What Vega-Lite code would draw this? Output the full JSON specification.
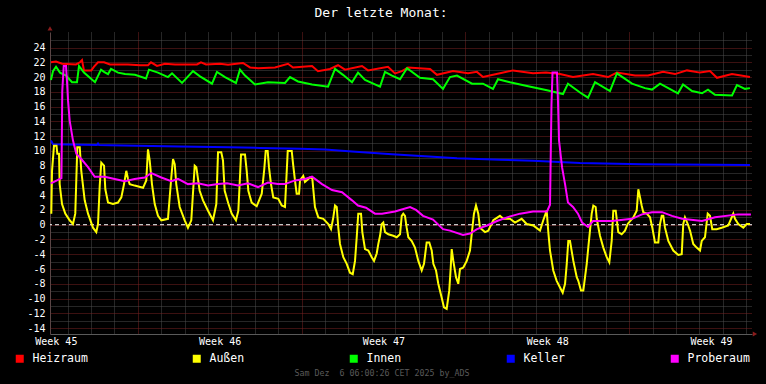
{
"$schema": "https://vega.github.io/schema/vega-lite/v6.json",
"background": "#000000",
"padding": {"left": 5, "right": 9, "top": 7, "bottom": 6},
"width": 702,
"height": 302,
"title": {"text": "Der letzte Monat:", "color": "#ffffff", "font": "DejaVu Sans Mono", "fontSize": 13, "fontWeight": "normal", "anchor": "middle", "offset": 6, "frame": "bounds"},
"config": {"view": {"stroke": null}},
"layer": [
{
"data": {"values": [{}]},
"mark": {"type": "rule", "color": "#ffffff", "strokeWidth": 1, "strokeDash": [4, 3]},
"encoding": {"y": {"datum": 0, "type": "quantitative"}}
},
{
"data": {"values": [
{"s":"Heizraum","t":"2025-11-06T07:00Z","v":22.0},{"s":"Heizraum","t":"2025-11-06T12:10Z","v":22.1},{"s":"Heizraum","t":"2025-11-06T18:20Z","v":21.8},{"s":"Heizraum","t":"2025-11-07T08:40Z","v":21.7},{"s":"Heizraum","t":"2025-11-07T12:45Z","v":22.0},{"s":"Heizraum","t":"2025-11-07T14:50Z","v":22.3},{"s":"Heizraum","t":"2025-11-07T16:50Z","v":20.9},{"s":"Heizraum","t":"2025-11-08T00:20Z","v":20.9},{"s":"Heizraum","t":"2025-11-08T03:10Z","v":21.4},{"s":"Heizraum","t":"2025-11-08T07:15Z","v":22.0},{"s":"Heizraum","t":"2025-11-08T13:25Z","v":22.0},{"s":"Heizraum","t":"2025-11-08T19:30Z","v":21.7},{"s":"Heizraum","t":"2025-11-09T14:00Z","v":21.7},{"s":"Heizraum","t":"2025-11-10T02:20Z","v":21.6},{"s":"Heizraum","t":"2025-11-10T10:30Z","v":21.6},{"s":"Heizraum","t":"2025-11-10T13:35Z","v":22.0},{"s":"Heizraum","t":"2025-11-10T19:45Z","v":21.5},{"s":"Heizraum","t":"2025-11-11T03:55Z","v":21.8},{"s":"Heizraum","t":"2025-11-11T14:15Z","v":21.7},{"s":"Heizraum","t":"2025-11-12T12:45Z","v":21.7},{"s":"Heizraum","t":"2025-11-12T16:50Z","v":22.0},{"s":"Heizraum","t":"2025-11-12T22:00Z","v":21.7},{"s":"Heizraum","t":"2025-11-13T12:20Z","v":21.8},{"s":"Heizraum","t":"2025-11-13T20:35Z","v":21.65},{"s":"Heizraum","t":"2025-11-14T11:55Z","v":21.9},{"s":"Heizraum","t":"2025-11-14T19:10Z","v":21.3},{"s":"Heizraum","t":"2025-11-15T03:20Z","v":21.2},{"s":"Heizraum","t":"2025-11-15T20:45Z","v":21.3},{"s":"Heizraum","t":"2025-11-16T10:05Z","v":21.8},{"s":"Heizraum","t":"2025-11-16T15:15Z","v":21.3},{"s":"Heizraum","t":"2025-11-17T10:45Z","v":21.5},{"s":"Heizraum","t":"2025-11-17T16:50Z","v":20.8},{"s":"Heizraum","t":"2025-11-18T05:10Z","v":21.1},{"s":"Heizraum","t":"2025-11-18T13:25Z","v":21.6},{"s":"Heizraum","t":"2025-11-18T20:35Z","v":21.0},{"s":"Heizraum","t":"2025-11-19T14:00Z","v":21.5},{"s":"Heizraum","t":"2025-11-19T20:10Z","v":20.9},{"s":"Heizraum","t":"2025-11-20T16:40Z","v":21.4},{"s":"Heizraum","t":"2025-11-20T23:50Z","v":20.5},{"s":"Heizraum","t":"2025-11-21T07:00Z","v":20.8},{"s":"Heizraum","t":"2025-11-21T13:10Z","v":21.3},{"s":"Heizraum","t":"2025-11-22T11:45Z","v":21.1},{"s":"Heizraum","t":"2025-11-22T18:55Z","v":20.3},{"s":"Heizraum","t":"2025-11-23T11:20Z","v":20.8},{"s":"Heizraum","t":"2025-11-24T02:45Z","v":20.5},{"s":"Heizraum","t":"2025-11-24T11:55Z","v":20.7},{"s":"Heizraum","t":"2025-11-24T18:05Z","v":20.0},{"s":"Heizraum","t":"2025-11-25T11:30Z","v":20.5},{"s":"Heizraum","t":"2025-11-26T00:50Z","v":20.9},{"s":"Heizraum","t":"2025-11-26T21:25Z","v":20.5},{"s":"Heizraum","t":"2025-11-27T10:45Z","v":20.6},{"s":"Heizraum","t":"2025-11-28T01:05Z","v":20.4},{"s":"Heizraum","t":"2025-11-28T14:25Z","v":20.0},{"s":"Heizraum","t":"2025-11-29T10:55Z","v":20.4},{"s":"Heizraum","t":"2025-11-30T02:20Z","v":20.0},{"s":"Heizraum","t":"2025-11-30T11:30Z","v":20.6},{"s":"Heizraum","t":"2025-12-01T06:00Z","v":20.2},{"s":"Heizraum","t":"2025-12-01T19:20Z","v":20.2},{"s":"Heizraum","t":"2025-12-02T10:45Z","v":20.7},{"s":"Heizraum","t":"2025-12-02T23:00Z","v":20.4},{"s":"Heizraum","t":"2025-12-03T11:20Z","v":20.9},{"s":"Heizraum","t":"2025-12-04T00:40Z","v":20.6},{"s":"Heizraum","t":"2025-12-04T10:55Z","v":20.8},{"s":"Heizraum","t":"2025-12-04T18:05Z","v":19.9},{"s":"Heizraum","t":"2025-12-05T09:30Z","v":20.4},{"s":"Heizraum","t":"2025-12-06T03:55Z","v":20.0},
{"s":"Innen","t":"2025-11-06T07:00Z","v":19.6},{"s":"Innen","t":"2025-11-06T09:05Z","v":20.8},{"s":"Innen","t":"2025-11-06T12:10Z","v":21.4},{"s":"Innen","t":"2025-11-06T16:15Z","v":20.6},{"s":"Innen","t":"2025-11-06T22:25Z","v":20.2},{"s":"Innen","t":"2025-11-07T04:35Z","v":19.3},{"s":"Innen","t":"2025-11-07T09:40Z","v":19.3},{"s":"Innen","t":"2025-11-07T11:45Z","v":21.5},{"s":"Innen","t":"2025-11-07T16:50Z","v":20.6},{"s":"Innen","t":"2025-11-08T04:10Z","v":19.3},{"s":"Innen","t":"2025-11-08T10:20Z","v":21.0},{"s":"Innen","t":"2025-11-08T13:25Z","v":20.7},{"s":"Innen","t":"2025-11-08T17:30Z","v":20.4},{"s":"Innen","t":"2025-11-08T20:35Z","v":21.1},{"s":"Innen","t":"2025-11-09T03:45Z","v":20.6},{"s":"Innen","t":"2025-11-09T10:55Z","v":20.4},{"s":"Innen","t":"2025-11-09T21:10Z","v":20.3},{"s":"Innen","t":"2025-11-10T08:30Z","v":19.8},{"s":"Innen","t":"2025-11-10T11:30Z","v":21.0},{"s":"Innen","t":"2025-11-10T20:45Z","v":20.6},{"s":"Innen","t":"2025-11-11T07:00Z","v":20.0},{"s":"Innen","t":"2025-11-11T11:10Z","v":20.5},{"s":"Innen","t":"2025-11-11T21:25Z","v":19.2},{"s":"Innen","t":"2025-11-12T08:40Z","v":20.8},{"s":"Innen","t":"2025-11-12T15:50Z","v":20.1},{"s":"Innen","t":"2025-11-13T04:10Z","v":19.1},{"s":"Innen","t":"2025-11-13T09:15Z","v":20.7},{"s":"Innen","t":"2025-11-13T17:30Z","v":20.0},{"s":"Innen","t":"2025-11-14T04:45Z","v":19.2},{"s":"Innen","t":"2025-11-14T08:50Z","v":21.0},{"s":"Innen","t":"2025-11-14T14:00Z","v":20.2},{"s":"Innen","t":"2025-11-15T00:15Z","v":19.0},{"s":"Innen","t":"2025-11-15T13:35Z","v":19.3},{"s":"Innen","t":"2025-11-16T07:00Z","v":19.2},{"s":"Innen","t":"2025-11-16T12:10Z","v":20.0},{"s":"Innen","t":"2025-11-16T20:20Z","v":19.4},{"s":"Innen","t":"2025-11-17T10:45Z","v":19.0},{"s":"Innen","t":"2025-11-18T03:10Z","v":18.7},{"s":"Innen","t":"2025-11-18T10:20Z","v":21.1},{"s":"Innen","t":"2025-11-18T18:30Z","v":20.3},{"s":"Innen","t":"2025-11-19T03:45Z","v":19.3},{"s":"Innen","t":"2025-11-19T09:55Z","v":20.6},{"s":"Innen","t":"2025-11-19T17:05Z","v":19.6},{"s":"Innen","t":"2025-11-20T08:30Z","v":18.7},{"s":"Innen","t":"2025-11-20T13:35Z","v":20.7},{"s":"Innen","t":"2025-11-20T20:45Z","v":20.2},{"s":"Innen","t":"2025-11-21T05:00Z","v":19.7},{"s":"Innen","t":"2025-11-21T12:10Z","v":21.2},{"s":"Innen","t":"2025-11-22T01:30Z","v":19.9},{"s":"Innen","t":"2025-11-22T14:50Z","v":19.7},{"s":"Innen","t":"2025-11-23T01:05Z","v":18.4},{"s":"Innen","t":"2025-11-23T08:15Z","v":20.0},{"s":"Innen","t":"2025-11-23T15:25Z","v":20.2},{"s":"Innen","t":"2025-11-24T06:50Z","v":19.1},{"s":"Innen","t":"2025-11-24T18:05Z","v":19.1},{"s":"Innen","t":"2025-11-25T04:20Z","v":18.4},{"s":"Innen","t":"2025-11-25T09:30Z","v":19.7},{"s":"Innen","t":"2025-11-25T21:45Z","v":19.3},{"s":"Innen","t":"2025-11-26T15:15Z","v":18.8},{"s":"Innen","t":"2025-11-27T11:45Z","v":18.2},{"s":"Innen","t":"2025-11-28T04:10Z","v":17.7},{"s":"Innen","t":"2025-11-28T09:15Z","v":19.1},{"s":"Innen","t":"2025-11-28T21:35Z","v":17.9},{"s":"Innen","t":"2025-11-29T05:50Z","v":17.2},{"s":"Innen","t":"2025-11-29T13:00Z","v":19.3},{"s":"Innen","t":"2025-11-30T04:20Z","v":18.1},{"s":"Innen","t":"2025-11-30T11:30Z","v":20.5},{"s":"Innen","t":"2025-12-01T02:55Z","v":19.1},{"s":"Innen","t":"2025-12-01T16:15Z","v":18.5},{"s":"Innen","t":"2025-12-01T23:25Z","v":18.3},{"s":"Innen","t":"2025-12-02T07:40Z","v":19.1},{"s":"Innen","t":"2025-12-03T02:05Z","v":17.8},{"s":"Innen","t":"2025-12-03T07:15Z","v":19.0},{"s":"Innen","t":"2025-12-03T16:30Z","v":18.1},{"s":"Innen","t":"2025-12-04T02:45Z","v":17.8},{"s":"Innen","t":"2025-12-04T08:50Z","v":18.3},{"s":"Innen","t":"2025-12-04T16:05Z","v":17.6},{"s":"Innen","t":"2025-12-05T09:30Z","v":17.5},{"s":"Innen","t":"2025-12-05T14:35Z","v":18.9},{"s":"Innen","t":"2025-12-05T22:50Z","v":18.4},{"s":"Innen","t":"2025-12-06T03:55Z","v":18.5},
{"s":"Keller","t":"2025-11-06T07:00Z","v":11.4},{"s":"Keller","t":"2025-11-06T09:05Z","v":10.9},{"s":"Keller","t":"2025-11-08T06:10Z","v":10.8},{"s":"Keller","t":"2025-11-08T07:15Z","v":11.0},{"s":"Keller","t":"2025-11-08T08:15Z","v":10.8},{"s":"Keller","t":"2025-11-08T19:30Z","v":10.75},{"s":"Keller","t":"2025-11-11T19:20Z","v":10.6},{"s":"Keller","t":"2025-11-13T22:35Z","v":10.5},{"s":"Keller","t":"2025-11-15T05:25Z","v":10.4},{"s":"Keller","t":"2025-11-16T22:25Z","v":10.3},{"s":"Keller","t":"2025-11-18T00:05Z","v":10.2},{"s":"Keller","t":"2025-11-19T03:45Z","v":9.9},{"s":"Keller","t":"2025-11-20T20:45Z","v":9.55},{"s":"Keller","t":"2025-11-22T14:50Z","v":9.2},{"s":"Keller","t":"2025-11-23T15:25Z","v":9.0},{"s":"Keller","t":"2025-11-25T11:30Z","v":8.8},{"s":"Keller","t":"2025-11-26T21:25Z","v":8.65},{"s":"Keller","t":"2025-11-28T21:35Z","v":8.35},{"s":"Keller","t":"2025-12-01T13:10Z","v":8.2},{"s":"Keller","t":"2025-12-06T03:55Z","v":8.1},
{"s":"Außen","t":"2025-11-06T07:20Z","v":1.5},{"s":"Außen","t":"2025-11-06T08:05Z","v":7.3},{"s":"Außen","t":"2025-11-06T10:05Z","v":10.7},{"s":"Außen","t":"2025-11-06T12:40Z","v":10.7},{"s":"Außen","t":"2025-11-06T13:30Z","v":9.6},{"s":"Außen","t":"2025-11-06T15:15Z","v":9.6},{"s":"Außen","t":"2025-11-06T15:55Z","v":5.5},{"s":"Außen","t":"2025-11-06T18:20Z","v":2.8},{"s":"Außen","t":"2025-11-06T21:40Z","v":1.5},{"s":"Außen","t":"2025-11-07T02:10Z","v":0.6},{"s":"Außen","t":"2025-11-07T05:35Z","v":0.1},{"s":"Außen","t":"2025-11-07T07:55Z","v":1.5},{"s":"Außen","t":"2025-11-07T10:00Z","v":10.5},{"s":"Außen","t":"2025-11-07T12:30Z","v":10.5},{"s":"Außen","t":"2025-11-07T14:05Z","v":7.3},{"s":"Außen","t":"2025-11-07T17:35Z","v":3.3},{"s":"Außen","t":"2025-11-07T21:00Z","v":1.5},{"s":"Außen","t":"2025-11-08T02:05Z","v":-0.4},{"s":"Außen","t":"2025-11-08T05:30Z","v":-1.0},{"s":"Außen","t":"2025-11-08T07:15Z","v":0.1},{"s":"Außen","t":"2025-11-08T09:00Z","v":5.3},{"s":"Außen","t":"2025-11-08T10:35Z","v":8.4},{"s":"Außen","t":"2025-11-08T13:25Z","v":8.0},{"s":"Außen","t":"2025-11-08T14:45Z","v":4.8},{"s":"Außen","t":"2025-11-08T17:30Z","v":3.0},{"s":"Außen","t":"2025-11-08T22:35Z","v":2.8},{"s":"Außen","t":"2025-11-09T03:45Z","v":3.0},{"s":"Außen","t":"2025-11-09T07:10Z","v":3.7},{"s":"Außen","t":"2025-11-09T09:55Z","v":5.5},{"s":"Außen","t":"2025-11-09T12:15Z","v":7.3},{"s":"Außen","t":"2025-11-09T14:00Z","v":6.2},{"s":"Außen","t":"2025-11-09T15:45Z","v":5.5},{"s":"Außen","t":"2025-11-09T20:50Z","v":5.3},{"s":"Außen","t":"2025-11-10T05:25Z","v":5.0},{"s":"Außen","t":"2025-11-10T08:45Z","v":6.0},{"s":"Außen","t":"2025-11-10T10:30Z","v":10.2},{"s":"Außen","t":"2025-11-10T12:15Z","v":8.7},{"s":"Außen","t":"2025-11-10T14:35Z","v":5.5},{"s":"Außen","t":"2025-11-10T17:25Z","v":2.8},{"s":"Außen","t":"2025-11-10T20:45Z","v":1.2},{"s":"Außen","t":"2025-11-11T00:10Z","v":0.6},{"s":"Außen","t":"2025-11-11T07:00Z","v":0.8},{"s":"Außen","t":"2025-11-11T08:45Z","v":3.7},{"s":"Außen","t":"2025-11-11T10:25Z","v":6.4},{"s":"Außen","t":"2025-11-11T12:10Z","v":8.9},{"s":"Außen","t":"2025-11-11T13:55Z","v":8.2},{"s":"Außen","t":"2025-11-11T15:30Z","v":5.5},{"s":"Außen","t":"2025-11-11T19:00Z","v":2.4},{"s":"Außen","t":"2025-11-12T00:10Z","v":0.6},{"s":"Außen","t":"2025-11-12T03:30Z","v":-0.4},{"s":"Außen","t":"2025-11-12T06:55Z","v":0.6},{"s":"Außen","t":"2025-11-12T10:25Z","v":8.0},{"s":"Außen","t":"2025-11-12T12:05Z","v":7.8},{"s":"Außen","t":"2025-11-12T15:30Z","v":4.6},{"s":"Außen","t":"2025-11-12T18:55Z","v":3.3},{"s":"Außen","t":"2025-11-13T00:05Z","v":1.9},{"s":"Außen","t":"2025-11-13T05:10Z","v":0.6},{"s":"Außen","t":"2025-11-13T08:35Z","v":2.8},{"s":"Außen","t":"2025-11-13T10:20Z","v":9.8},{"s":"Außen","t":"2025-11-13T13:40Z","v":9.8},{"s":"Außen","t":"2025-11-13T15:25Z","v":8.7},{"s":"Außen","t":"2025-11-13T17:10Z","v":4.6},{"s":"Außen","t":"2025-11-13T20:50Z","v":2.9},{"s":"Außen","t":"2025-11-14T00:20Z","v":1.5},{"s":"Außen","t":"2025-11-14T04:45Z","v":0.6},{"s":"Außen","t":"2025-11-14T07:10Z","v":1.9},{"s":"Außen","t":"2025-11-14T08:50Z","v":6.4},{"s":"Außen","t":"2025-11-14T09:55Z","v":9.5},{"s":"Außen","t":"2025-11-14T14:00Z","v":9.5},{"s":"Außen","t":"2025-11-14T15:45Z","v":7.3},{"s":"Außen","t":"2025-11-14T17:25Z","v":4.6},{"s":"Außen","t":"2025-11-14T20:50Z","v":3.0},{"s":"Außen","t":"2025-11-15T02:00Z","v":2.5},{"s":"Außen","t":"2025-11-15T07:10Z","v":4.2},{"s":"Außen","t":"2025-11-15T09:45Z","v":7.5},{"s":"Außen","t":"2025-11-15T11:15Z","v":10.0},{"s":"Außen","t":"2025-11-15T13:15Z","v":10.0},{"s":"Außen","t":"2025-11-15T14:35Z","v":7.8},{"s":"Außen","t":"2025-11-15T16:40Z","v":5.5},{"s":"Außen","t":"2025-11-15T19:00Z","v":3.7},{"s":"Außen","t":"2025-11-16T00:10Z","v":3.5},{"s":"Außen","t":"2025-11-16T03:40Z","v":2.6},{"s":"Außen","t":"2025-11-16T07:00Z","v":2.4},{"s":"Außen","t":"2025-11-16T09:50Z","v":10.0},{"s":"Außen","t":"2025-11-16T13:55Z","v":10.0},{"s":"Außen","t":"2025-11-16T15:30Z","v":8.0},{"s":"Außen","t":"2025-11-16T17:15Z","v":6.0},{"s":"Außen","t":"2025-11-16T19:00Z","v":4.2},{"s":"Außen","t":"2025-11-16T21:25Z","v":4.2},{"s":"Außen","t":"2025-11-16T22:25Z","v":6.0},{"s":"Außen","t":"2025-11-17T01:45Z","v":6.6},{"s":"Außen","t":"2025-11-17T03:30Z","v":5.8},{"s":"Außen","t":"2025-11-17T08:40Z","v":6.4},{"s":"Außen","t":"2025-11-17T11:00Z","v":6.3},{"s":"Außen","t":"2025-11-17T13:45Z","v":2.4},{"s":"Außen","t":"2025-11-17T17:10Z","v":1.0},{"s":"Außen","t":"2025-11-17T22:20Z","v":0.8},{"s":"Außen","t":"2025-11-18T03:25Z","v":0.1},{"s":"Außen","t":"2025-11-18T06:15Z","v":-0.6},{"s":"Außen","t":"2025-11-18T08:35Z","v":1.0},{"s":"Außen","t":"2025-11-18T10:20Z","v":2.6},{"s":"Außen","t":"2025-11-18T12:05Z","v":2.4},{"s":"Außen","t":"2025-11-18T13:40Z","v":-0.4},{"s":"Außen","t":"2025-11-18T15:25Z","v":-2.6},{"s":"Außen","t":"2025-11-18T18:50Z","v":-4.4},{"s":"Außen","t":"2025-11-18T22:20Z","v":-5.3},{"s":"Außen","t":"2025-11-19T01:40Z","v":-6.5},{"s":"Außen","t":"2025-11-19T04:30Z","v":-6.7},{"s":"Außen","t":"2025-11-19T06:50Z","v":-4.9},{"s":"Außen","t":"2025-11-19T08:35Z","v":-1.7},{"s":"Außen","t":"2025-11-19T10:10Z","v":1.5},{"s":"Außen","t":"2025-11-19T13:00Z","v":1.5},{"s":"Außen","t":"2025-11-19T14:20Z","v":-1.0},{"s":"Außen","t":"2025-11-19T17:05Z","v":-3.3},{"s":"Außen","t":"2025-11-19T20:30Z","v":-3.5},{"s":"Außen","t":"2025-11-20T00:00Z","v":-4.4},{"s":"Außen","t":"2025-11-20T02:20Z","v":-4.9},{"s":"Außen","t":"2025-11-20T05:05Z","v":-3.9},{"s":"Außen","t":"2025-11-20T06:45Z","v":-2.6},{"s":"Außen","t":"2025-11-20T08:30Z","v":-1.5},{"s":"Außen","t":"2025-11-20T10:15Z","v":0.1},{"s":"Außen","t":"2025-11-20T11:50Z","v":0.3},{"s":"Außen","t":"2025-11-20T13:35Z","v":-1.0},{"s":"Außen","t":"2025-11-20T17:00Z","v":-1.3},{"s":"Außen","t":"2025-11-20T22:05Z","v":-1.5},{"s":"Außen","t":"2025-11-21T01:35Z","v":-1.7},{"s":"Außen","t":"2025-11-21T05:00Z","v":-1.3},{"s":"Außen","t":"2025-11-21T06:45Z","v":1.2},{"s":"Außen","t":"2025-11-21T08:20Z","v":1.5},{"s":"Außen","t":"2025-11-21T10:05Z","v":1.2},{"s":"Außen","t":"2025-11-21T11:50Z","v":-0.4},{"s":"Außen","t":"2025-11-21T13:30Z","v":-1.7},{"s":"Außen","t":"2025-11-21T17:00Z","v":-2.2},{"s":"Außen","t":"2025-11-21T20:20Z","v":-3.1},{"s":"Außen","t":"2025-11-21T23:45Z","v":-4.9},{"s":"Außen","t":"2025-11-22T03:15Z","v":-6.2},{"s":"Außen","t":"2025-11-22T05:35Z","v":-5.3},{"s":"Außen","t":"2025-11-22T08:20Z","v":-2.4},{"s":"Außen","t":"2025-11-22T11:00Z","v":-2.4},{"s":"Außen","t":"2025-11-22T13:30Z","v":-3.5},{"s":"Außen","t":"2025-11-22T15:10Z","v":-5.3},{"s":"Außen","t":"2025-11-22T17:55Z","v":-6.2},{"s":"Außen","t":"2025-11-22T20:15Z","v":-8.0},{"s":"Außen","t":"2025-11-22T23:45Z","v":-9.9},{"s":"Außen","t":"2025-11-23T02:05Z","v":-11.2},{"s":"Außen","t":"2025-11-23T04:50Z","v":-11.4},{"s":"Außen","t":"2025-11-23T07:30Z","v":-8.9},{"s":"Außen","t":"2025-11-23T09:00Z","v":-5.8},{"s":"Außen","t":"2025-11-23T10:00Z","v":-3.3},{"s":"Außen","t":"2025-11-23T11:40Z","v":-4.9},{"s":"Außen","t":"2025-11-23T14:25Z","v":-7.1},{"s":"Außen","t":"2025-11-23T16:45Z","v":-8.0},{"s":"Außen","t":"2025-11-23T18:30Z","v":-6.0},{"s":"Außen","t":"2025-11-23T21:55Z","v":-5.8},{"s":"Außen","t":"2025-11-24T01:25Z","v":-4.9},{"s":"Außen","t":"2025-11-24T04:45Z","v":-3.5},{"s":"Außen","t":"2025-11-24T06:30Z","v":-1.3},{"s":"Außen","t":"2025-11-24T08:50Z","v":1.5},{"s":"Außen","t":"2025-11-24T10:55Z","v":2.6},{"s":"Außen","t":"2025-11-24T13:15Z","v":1.5},{"s":"Außen","t":"2025-11-24T15:00Z","v":-0.4},{"s":"Außen","t":"2025-11-24T20:10Z","v":-1.0},{"s":"Außen","t":"2025-11-24T23:30Z","v":-0.8},{"s":"Außen","t":"2025-11-25T04:40Z","v":0.6},{"s":"Außen","t":"2025-11-25T11:30Z","v":1.2},{"s":"Außen","t":"2025-11-25T14:55Z","v":0.8},{"s":"Außen","t":"2025-11-25T21:45Z","v":0.8},{"s":"Außen","t":"2025-11-26T02:55Z","v":0.3},{"s":"Außen","t":"2025-11-26T09:45Z","v":0.8},{"s":"Außen","t":"2025-11-26T14:55Z","v":0.1},{"s":"Außen","t":"2025-11-26T21:40Z","v":-0.1},{"s":"Außen","t":"2025-11-27T04:35Z","v":-0.8},{"s":"Außen","t":"2025-11-27T07:55Z","v":0.6},{"s":"Außen","t":"2025-11-27T11:25Z","v":1.9},{"s":"Außen","t":"2025-11-27T13:05Z","v":-1.0},{"s":"Außen","t":"2025-11-27T14:50Z","v":-3.5},{"s":"Außen","t":"2025-11-27T18:10Z","v":-6.2},{"s":"Außen","t":"2025-11-27T21:40Z","v":-7.6},{"s":"Außen","t":"2025-11-28T01:05Z","v":-8.5},{"s":"Außen","t":"2025-11-28T03:50Z","v":-9.2},{"s":"Außen","t":"2025-11-28T06:15Z","v":-8.0},{"s":"Außen","t":"2025-11-28T08:00Z","v":-5.3},{"s":"Außen","t":"2025-11-28T09:35Z","v":-2.2},{"s":"Außen","t":"2025-11-28T11:20Z","v":-2.2},{"s":"Außen","t":"2025-11-28T14:45Z","v":-4.9},{"s":"Außen","t":"2025-11-28T18:15Z","v":-7.1},{"s":"Außen","t":"2025-11-28T19:50Z","v":-7.6},{"s":"Außen","t":"2025-11-28T22:35Z","v":-8.9},{"s":"Außen","t":"2025-11-29T01:00Z","v":-8.9},{"s":"Außen","t":"2025-11-29T02:45Z","v":-7.1},{"s":"Außen","t":"2025-11-29T04:30Z","v":-5.3},{"s":"Außen","t":"2025-11-29T06:05Z","v":-3.1},{"s":"Außen","t":"2025-11-29T07:50Z","v":-0.8},{"s":"Außen","t":"2025-11-29T09:35Z","v":1.5},{"s":"Außen","t":"2025-11-29T11:15Z","v":2.6},{"s":"Außen","t":"2025-11-29T13:40Z","v":2.4},{"s":"Außen","t":"2025-11-29T14:45Z","v":0.8},{"s":"Außen","t":"2025-11-29T18:05Z","v":-1.5},{"s":"Außen","t":"2025-11-29T21:30Z","v":-3.1},{"s":"Außen","t":"2025-11-30T01:00Z","v":-4.4},{"s":"Außen","t":"2025-11-30T03:40Z","v":-5.1},{"s":"Außen","t":"2025-11-30T06:05Z","v":-2.2},{"s":"Außen","t":"2025-11-30T07:45Z","v":1.9},{"s":"Außen","t":"2025-11-30T10:15Z","v":1.9},{"s":"Außen","t":"2025-11-30T12:50Z","v":-1.0},{"s":"Außen","t":"2025-11-30T16:20Z","v":-1.3},{"s":"Außen","t":"2025-11-30T19:45Z","v":-0.8},{"s":"Außen","t":"2025-11-30T22:30Z","v":0.1},{"s":"Außen","t":"2025-12-01T04:15Z","v":1.0},{"s":"Außen","t":"2025-12-01T07:45Z","v":1.9},{"s":"Außen","t":"2025-12-01T09:25Z","v":4.8},{"s":"Außen","t":"2025-12-01T11:10Z","v":3.7},{"s":"Außen","t":"2025-12-01T12:50Z","v":2.6},{"s":"Außen","t":"2025-12-01T14:30Z","v":1.7},{"s":"Außen","t":"2025-12-01T18:00Z","v":1.5},{"s":"Außen","t":"2025-12-01T21:25Z","v":1.0},{"s":"Außen","t":"2025-12-01T23:45Z","v":-0.4},{"s":"Außen","t":"2025-12-02T02:30Z","v":-2.4},{"s":"Außen","t":"2025-12-02T05:55Z","v":-2.4},{"s":"Außen","t":"2025-12-02T07:40Z","v":0.1},{"s":"Außen","t":"2025-12-02T09:25Z","v":1.2},{"s":"Außen","t":"2025-12-02T11:00Z","v":1.2},{"s":"Außen","t":"2025-12-02T12:45Z","v":-0.4},{"s":"Außen","t":"2025-12-02T16:10Z","v":-2.2},{"s":"Außen","t":"2025-12-02T21:15Z","v":-3.5},{"s":"Außen","t":"2025-12-03T02:25Z","v":-4.1},{"s":"Außen","t":"2025-12-03T05:55Z","v":-4.0},{"s":"Außen","t":"2025-12-03T07:30Z","v":0.1},{"s":"Außen","t":"2025-12-03T09:15Z","v":1.0},{"s":"Außen","t":"2025-12-03T12:05Z","v":0.1},{"s":"Außen","t":"2025-12-03T14:25Z","v":-0.8},{"s":"Außen","t":"2025-12-03T17:45Z","v":-2.6},{"s":"Außen","t":"2025-12-03T21:15Z","v":-3.1},{"s":"Außen","t":"2025-12-04T00:40Z","v":-3.5},{"s":"Außen","t":"2025-12-04T02:25Z","v":-2.2},{"s":"Außen","t":"2025-12-04T05:45Z","v":-1.7},{"s":"Außen","t":"2025-12-04T08:35Z","v":1.5},{"s":"Außen","t":"2025-12-04T10:55Z","v":1.2},{"s":"Außen","t":"2025-12-04T13:15Z","v":-0.6},{"s":"Außen","t":"2025-12-04T17:45Z","v":-0.6},{"s":"Außen","t":"2025-12-04T22:55Z","v":-0.4},{"s":"Außen","t":"2025-12-05T05:40Z","v":-0.1},{"s":"Außen","t":"2025-12-05T10:50Z","v":1.5},{"s":"Außen","t":"2025-12-05T12:35Z","v":0.8},{"s":"Außen","t":"2025-12-05T15:55Z","v":0.1},{"s":"Außen","t":"2025-12-05T21:05Z","v":-0.4},{"s":"Außen","t":"2025-12-06T00:35Z","v":0.1},{"s":"Außen","t":"2025-12-06T03:55Z","v":0.1},
{"s":"Proberaum","t":"2025-11-06T07:00Z","v":5.6},{"s":"Proberaum","t":"2025-11-06T16:15Z","v":6.2},{"s":"Proberaum","t":"2025-11-06T17:45Z","v":6.3},{"s":"Proberaum","t":"2025-11-06T18:35Z","v":18.1},{"s":"Proberaum","t":"2025-11-06T20:05Z","v":21.5},{"s":"Proberaum","t":"2025-11-06T22:25Z","v":21.5},{"s":"Proberaum","t":"2025-11-06T23:10Z","v":20.0},{"s":"Proberaum","t":"2025-11-07T00:30Z","v":16.8},{"s":"Proberaum","t":"2025-11-07T02:10Z","v":14.1},{"s":"Proberaum","t":"2025-11-07T05:35Z","v":11.4},{"s":"Proberaum","t":"2025-11-07T09:00Z","v":9.6},{"s":"Proberaum","t":"2025-11-07T14:05Z","v":8.9},{"s":"Proberaum","t":"2025-11-07T21:00Z","v":7.8},{"s":"Proberaum","t":"2025-11-08T03:50Z","v":6.5},{"s":"Proberaum","t":"2025-11-08T14:05Z","v":6.5},{"s":"Proberaum","t":"2025-11-09T00:20Z","v":6.2},{"s":"Proberaum","t":"2025-11-09T10:35Z","v":5.9},{"s":"Proberaum","t":"2025-11-09T20:50Z","v":6.2},{"s":"Proberaum","t":"2025-11-10T07:10Z","v":6.4},{"s":"Proberaum","t":"2025-11-10T13:55Z","v":7.0},{"s":"Proberaum","t":"2025-11-11T00:10Z","v":6.4},{"s":"Proberaum","t":"2025-11-11T10:25Z","v":5.9},{"s":"Proberaum","t":"2025-11-11T17:15Z","v":6.2},{"s":"Proberaum","t":"2025-11-12T03:30Z","v":5.5},{"s":"Proberaum","t":"2025-11-12T13:45Z","v":5.6},{"s":"Proberaum","t":"2025-11-13T00:05Z","v":5.3},{"s":"Proberaum","t":"2025-11-13T10:20Z","v":5.5},{"s":"Proberaum","t":"2025-11-13T19:30Z","v":5.6},{"s":"Proberaum","t":"2025-11-14T06:50Z","v":5.3},{"s":"Proberaum","t":"2025-11-14T17:05Z","v":5.6},{"s":"Proberaum","t":"2025-11-15T03:20Z","v":5.1},{"s":"Proberaum","t":"2025-11-15T13:35Z","v":5.7},{"s":"Proberaum","t":"2025-11-15T23:50Z","v":5.5},{"s":"Proberaum","t":"2025-11-16T07:00Z","v":5.5},{"s":"Proberaum","t":"2025-11-16T17:15Z","v":6.0},{"s":"Proberaum","t":"2025-11-17T03:30Z","v":6.2},{"s":"Proberaum","t":"2025-11-17T10:45Z","v":6.5},{"s":"Proberaum","t":"2025-11-17T21:00Z","v":5.5},{"s":"Proberaum","t":"2025-11-18T07:15Z","v":4.7},{"s":"Proberaum","t":"2025-11-18T17:30Z","v":4.4},{"s":"Proberaum","t":"2025-11-19T03:45Z","v":3.3},{"s":"Proberaum","t":"2025-11-19T09:55Z","v":2.6},{"s":"Proberaum","t":"2025-11-19T18:05Z","v":2.3},{"s":"Proberaum","t":"2025-11-20T03:20Z","v":1.5},{"s":"Proberaum","t":"2025-11-20T10:30Z","v":1.5},{"s":"Proberaum","t":"2025-11-20T23:50Z","v":1.8},{"s":"Proberaum","t":"2025-11-21T05:00Z","v":2.0},{"s":"Proberaum","t":"2025-11-21T15:15Z","v":2.4},{"s":"Proberaum","t":"2025-11-21T21:25Z","v":2.0},{"s":"Proberaum","t":"2025-11-22T04:35Z","v":1.2},{"s":"Proberaum","t":"2025-11-22T14:50Z","v":0.7},{"s":"Proberaum","t":"2025-11-23T01:05Z","v":-0.6},{"s":"Proberaum","t":"2025-11-23T08:15Z","v":-0.8},{"s":"Proberaum","t":"2025-11-23T21:35Z","v":-1.4},{"s":"Proberaum","t":"2025-11-24T04:45Z","v":-1.2},{"s":"Proberaum","t":"2025-11-24T11:55Z","v":-0.6},{"s":"Proberaum","t":"2025-11-24T22:15Z","v":-0.1},{"s":"Proberaum","t":"2025-11-25T08:30Z","v":0.5},{"s":"Proberaum","t":"2025-11-25T18:45Z","v":1.0},{"s":"Proberaum","t":"2025-11-26T08:05Z","v":1.5},{"s":"Proberaum","t":"2025-11-26T21:25Z","v":1.8},{"s":"Proberaum","t":"2025-11-27T11:45Z","v":1.8},{"s":"Proberaum","t":"2025-11-27T14:50Z","v":2.7},{"s":"Proberaum","t":"2025-11-27T16:20Z","v":16.3},{"s":"Proberaum","t":"2025-11-27T17:25Z","v":20.6},{"s":"Proberaum","t":"2025-11-27T22:00Z","v":20.6},{"s":"Proberaum","t":"2025-11-27T23:00Z","v":16.8},{"s":"Proberaum","t":"2025-11-28T00:05Z","v":11.4},{"s":"Proberaum","t":"2025-11-28T03:10Z","v":7.8},{"s":"Proberaum","t":"2025-11-28T06:15Z","v":5.5},{"s":"Proberaum","t":"2025-11-28T09:15Z","v":3.0},{"s":"Proberaum","t":"2025-11-28T14:25Z","v":2.4},{"s":"Proberaum","t":"2025-11-28T19:30Z","v":1.5},{"s":"Proberaum","t":"2025-11-28T23:40Z","v":0.3},{"s":"Proberaum","t":"2025-11-29T05:50Z","v":-0.3},{"s":"Proberaum","t":"2025-11-29T10:55Z","v":0.5},{"s":"Proberaum","t":"2025-11-30T06:25Z","v":0.5},{"s":"Proberaum","t":"2025-12-01T02:55Z","v":0.8},{"s":"Proberaum","t":"2025-12-01T13:10Z","v":1.4},{"s":"Proberaum","t":"2025-12-01T23:25Z","v":1.7},{"s":"Proberaum","t":"2025-12-02T09:40Z","v":1.7},{"s":"Proberaum","t":"2025-12-02T19:55Z","v":1.2},{"s":"Proberaum","t":"2025-12-03T06:15Z","v":0.8},{"s":"Proberaum","t":"2025-12-04T02:45Z","v":0.5},{"s":"Proberaum","t":"2025-12-04T16:05Z","v":1.0},{"s":"Proberaum","t":"2025-12-05T15:40Z","v":1.4},{"s":"Proberaum","t":"2025-12-06T04:55Z","v":1.4}
]},
"mark": {"type": "line", "strokeWidth": 2, "interpolate": "linear"},
"encoding": {
"x": {"field": "t", "type": "temporal",
"scale": {"type": "utc", "domain": [{"year":2025,"month":11,"date":6,"hours":6,"utc":true},{"year":2025,"month":12,"date":6,"hours":6,"utc":true}]},
"axis": {
"title": null,
"tickCount": 500,
"values": [
{"year":2025,"month":11,"date":6,"hours":12,"utc":true},{"year":2025,"month":11,"date":7,"utc":true},{"year":2025,"month":11,"date":8,"utc":true},{"year":2025,"month":11,"date":9,"utc":true},{"year":2025,"month":11,"date":10,"utc":true},{"year":2025,"month":11,"date":11,"utc":true},{"year":2025,"month":11,"date":12,"utc":true},{"year":2025,"month":11,"date":13,"utc":true},{"year":2025,"month":11,"date":13,"hours":12,"utc":true},{"year":2025,"month":11,"date":14,"utc":true},{"year":2025,"month":11,"date":15,"utc":true},{"year":2025,"month":11,"date":16,"utc":true},{"year":2025,"month":11,"date":17,"utc":true},{"year":2025,"month":11,"date":18,"utc":true},{"year":2025,"month":11,"date":19,"utc":true},{"year":2025,"month":11,"date":20,"utc":true},{"year":2025,"month":11,"date":20,"hours":12,"utc":true},{"year":2025,"month":11,"date":21,"utc":true},{"year":2025,"month":11,"date":22,"utc":true},{"year":2025,"month":11,"date":23,"utc":true},{"year":2025,"month":11,"date":24,"utc":true},{"year":2025,"month":11,"date":25,"utc":true},{"year":2025,"month":11,"date":26,"utc":true},{"year":2025,"month":11,"date":27,"utc":true},{"year":2025,"month":11,"date":27,"hours":12,"utc":true},{"year":2025,"month":11,"date":28,"utc":true},{"year":2025,"month":11,"date":29,"utc":true},{"year":2025,"month":11,"date":30,"utc":true},{"year":2025,"month":12,"date":1,"utc":true},{"year":2025,"month":12,"date":2,"utc":true},{"year":2025,"month":12,"date":3,"utc":true},{"year":2025,"month":12,"date":4,"utc":true},{"year":2025,"month":12,"date":4,"hours":12,"utc":true},{"year":2025,"month":12,"date":5,"utc":true},{"year":2025,"month":12,"date":6,"utc":true}
],
"labelExpr": "utchours(datum.value) === 12 ? 'Week ' + utcFormat(datum.value, '%V') : ''",
"labelColor": "#ffffff", "labelFont": "DejaVu Sans Mono", "labelFontSize": 10, "labelPadding": 2, "labelOverlap": false, "labelFlush": false,
"ticks": false, "domainColor": "#5a5a5a", "domainWidth": 1,
"grid": true,
"gridColor": {"condition": {"test": "utcday(datum.value) === 1 && utchours(datum.value) === 0", "value": "#782222"}, "value": "#4c4c4c"},
"gridOpacity": {"condition": {"test": "utchours(datum.value) === 12", "value": 0}, "value": 1},
"gridDash": [1, 1]
}},
"y": {"field": "v", "type": "quantitative",
"scale": {"domain": [-14.8, 26.1], "nice": false, "zero": false},
"axis": {
"title": null,
"tickCount": 500,
"values": [-14,-13,-12,-11,-10,-9,-8,-7,-6,-5,-4,-3,-2,-1,0,1,2,3,4,5,6,7,8,9,10,11,12,13,14,15,16,17,18,19,20,21,22,23,24,25],
"labelExpr": "datum.value % 2 === 0 ? '' + datum.value : ''",
"labelColor": "#ffffff", "labelFont": "DejaVu Sans Mono", "labelFontSize": 10, "labelPadding": 5, "labelOverlap": false,
"ticks": false, "domainColor": "#5a4545", "minExtent": 45,
"grid": true,
"gridColor": {"condition": {"test": "datum.value % 2 === 0", "value": "#782222"}, "value": "#4c4c4c"},
"gridDash": [1, 1]
}},
"color": {"field": "s", "type": "nominal",
"scale": {"domain": ["Heizraum", "Außen", "Innen", "Keller", "Proberaum"], "range": ["#ff0000", "#ffff00", "#00ff00", "#0000ff", "#ff00ff"]},
"legend": {"title": "Sam Dez \u00a06 06:00:26 CET 2025 by_ADS", "titleOrient": "bottom", "titleAnchor": "middle", "titleColor": "#5a5a5a", "titleFont": "DejaVu Sans Mono", "titleFontSize": 8.3, "titleFontWeight": "normal", "titlePadding": 5, "titleLimit": 0,
"orient": "none", "legendX": -36, "legendY": 321, "direction": "horizontal", "columns": 5, "gridAlign": "none", "columnPadding": 103, "padding": 0,
"symbolType": "square", "symbolSize": 64, "symbolStrokeWidth": 0,
"labelFont": "DejaVu Sans Mono", "labelFontSize": 11.5, "labelColor": "#ffffff", "labelOffset": 7,
"encode": {"symbols": {"update": {"fill": {"scale": "color", "field": "value"}, "fillOpacity": {"value": 1}, "strokeWidth": {"value": 0}}}}}
}
}
},
{
"data": {"values": [{}]},
"mark": {"type": "point", "shape": "triangle-up", "filled": true, "color": "#8b1c1c", "size": 25, "opacity": 1, "clip": false},
"encoding": {"x": {"datum": {"year":2025,"month":11,"date":6,"hours":6,"utc":true}, "type": "temporal"}, "y": {"datum": 26.6, "type": "quantitative"}}
},
{
"data": {"values": [{}]},
"mark": {"type": "point", "shape": "triangle-right", "filled": true, "color": "#8b1c1c", "size": 25, "opacity": 1, "clip": false},
"encoding": {"x": {"datum": {"year":2025,"month":12,"date":6,"hours":9,"utc":true}, "type": "temporal"}, "y": {"datum": -14.8, "type": "quantitative"}}
}
]
}
